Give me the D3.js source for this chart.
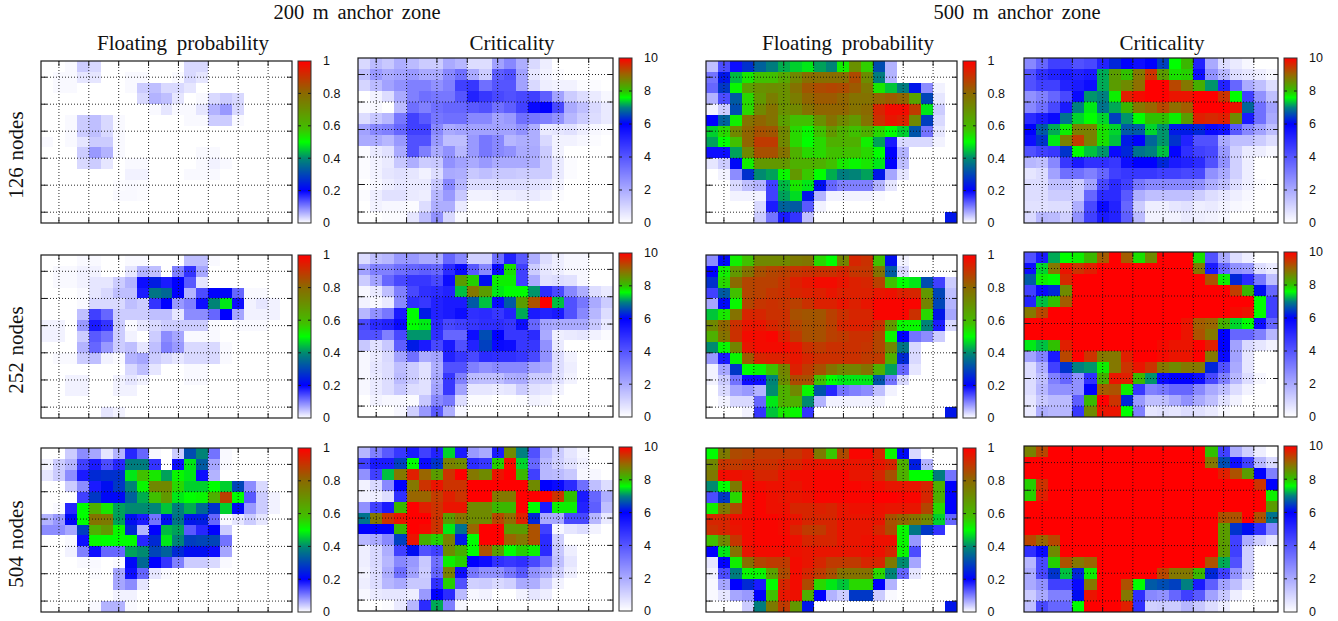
<!DOCTYPE html>
<html><head><meta charset="utf-8">
<script src="https://cdn.jsdelivr.net/npm/d3@7"></script>
<style>html,body{margin:0;padding:0;background:#fff;overflow:hidden}</style>
</head><body><svg id="c" width="1338" height="621"></svg>
<script>
// Values: floating probability in percent, criticality in tenths (0-100 = 0-10)
const fp200n126=[
[0,0,.5,4,3,0,0,0,0,0,0,0,3,3,0,0,0,0,0,0,0],
[0,.5,.5,2,2,0,0,.5,.5,0,0,.5,3,2,0,0,0,0,0,0,0],
[0,.5,.5,0,0,0,0,.5,4,5,3,3,2,0,0,0,0,0,0,0,0],
[0,0,0,0,0,0,0,0,3,6,5,2,0,.5,3,4,3,0,0,0,0],
[0,0,0,0,0,0,0,0,0,.5,2,.5,.5,2,6,8,3,0,0,0,0],
[0,0,.5,4,5,3,.5,0,0,0,0,0,.5,.5,4,4,.5,0,0,0,0],
[0,0,.5,4,5,3,.5,0,0,0,0,0,0,0,0,0,0,0,0,0,0],
[.5,0,.5,2,4,4,.5,0,0,0,0,0,0,0,0,0,0,0,0,0,0],
[0,0,0,4,8,6,.5,0,0,0,0,0,0,.5,.5,0,0,0,0,0,0],
[0,0,0,3,4,2,0,.5,.5,0,0,0,0,.5,1,.5,0,0,0,0,0],
[0,0,0,0,0,0,0,1,1,0,0,0,.5,.5,.5,0,0,0,0,0,0],
[0,0,0,0,0,0,.3,.5,.3,0,0,0,0,0,0,0,0,0,0,0,0],
[0,0,0,0,0,0,.5,.5,.3,0,0,0,0,0,0,0,0,0,0,0,0],
[0,0,0,0,0,0,0,0,0,0,0,0,0,0,0,0,0,0,0,0,0],
[0,0,0,0,0,0,0,0,0,0,0,0,0,0,0,0,0,0,0,0,0]];
const cr200n126=[
[9,16,13,19,16,12,12,20,17,8,8,22,28,19,9,4,0,0,0,0,0],
[15,24,20,22,24,20,20,28,34,20,12,38,41,22,6,3,1,0,0,0,0],
[10,16,22,26,30,30,26,30,45,47,34,40,40,22,9,4,3,3,1,1,0],
[0,3,8,20,30,34,32,32,40,52,47,43,41,43,45,38,22,12,8,5,2],
[1,2,0,16,34,30,34,36,36,39,41,34,38,45,58,60,43,20,15,9,5],
[8,13,17,32,45,39,32,34,34,28,28,22,24,34,32,30,26,17,12,8,5],
[22,28,30,36,45,45,28,20,22,22,22,22,22,26,19,5,6,7,4,2,1],
[20,20,17,24,41,41,24,15,15,24,32,28,17,19,19,9,3,3,2,1,0],
[1,5,7,20,41,30,20,26,17,24,32,28,26,20,20,12,3,0,0,0,0],
[1,3,5,13,19,12,13,26,22,20,24,20,20,20,19,12,5,1,0,0,0],
[1,3,6,7,6,3,8,20,19,13,15,13,13,12,12,12,5,1,0,0,0],
[0,2,4,6,5,5,13,28,17,8,8,8,8,8,7,6,3,0,0,0,0],
[1,4,7,7,5,4,17,24,13,3,3,4,4,5,5,3,1,0,0,0,0],
[0,3,2,2,1,8,19,19,5,0,0,0,0,0,0,0,0,0,0,0,0],
[0,0,1,1,6,15,26,9,1,0,0,0,0,0,0,0,0,0,0,0,0]];
const fp500n126=[
[5,14,19,27,34,38,43,46,48,42,39,52,70,56,31,6,0,0,0,0,0],
[11,23,44,53,58,58,64,72,79,79,79,79,86,71,38,6,0,0,0,0,0],
[12,28,51,66,70,71,70,78,84,86,87,86,83,76,53,45,38,23,9,1,0],
[6,14,33,55,68,75,70,75,81,83,83,81,78,78,81,83,81,65,30,2,0],
[1,4,31,55,72,78,70,72,78,81,81,81,78,80,93,98,98,89,48,4,0],
[20,34,52,78,81,78,66,58,58,70,78,72,68,78,91,96,94,72,29,3,0],
[46,55,72,81,85,84,72,55,51,58,68,62,58,62,55,50,46,32,11,2,0],
[42,50,58,81,89,89,72,55,50,55,62,62,62,52,42,18,3,3,3,1,0],
[19,19,42,72,85,85,78,62,55,55,58,58,58,55,50,20,6,0,0,0,0],
[2,4,21,52,68,68,68,62,62,62,58,53,51,53,48,20,5,0,0,0,0],
[0,1,9,27,40,42,51,68,57,50,43,38,39,42,23,7,2,0,0,0,0],
[0,0,3,5,6,15,44,53,48,22,12,10,10,10,6,2,0,0,0,0,0],
[0,0,1,1,1,15,42,47,23,6,1,1,1,1,.5,0,0,0,0,0,0],
[0,0,0,0,3,18,34,33,13,1,0,0,0,0,0,0,0,0,0,0,0],
[0,0,0,0,4,11,18,16,5,0,0,0,0,0,0,0,0,0,0,0,23]];
const cr500n126=[
[28,36,45,45,41,43,52,63,60,57,60,65,76,81,52,20,8,5,2,0,0],
[41,49,52,54,52,54,72,84,80,88,95,84,78,79,57,26,17,8,6,4,2],
[41,45,45,52,54,57,72,84,86,89,100,100,93,88,82,71,52,36,20,15,8],
[26,30,36,43,58,71,70,77,97,99,100,100,98,98,100,100,95,76,45,26,15],
[28,34,43,54,70,75,69,72,81,88,90,93,89,91,100,100,100,98,68,34,22],
[50,54,58,69,74,76,74,65,71,76,80,80,77,84,97,96,97,86,54,34,20],
[60,67,72,77,87,87,78,74,67,67,74,71,62,62,63,58,56,39,28,22,15],
[57,64,75,87,94,87,78,73,62,60,68,71,64,52,41,41,20,15,15,12,8],
[41,45,47,64,76,73,71,58,63,69,70,73,59,49,45,43,24,11,5,4,2],
[17,15,28,47,54,49,49,47,57,60,60,63,54,52,50,41,26,11,4,0,0],
[6,8,22,34,34,30,36,45,47,47,47,45,45,43,43,26,20,11,4,0,0],
[8,8,15,15,12,22,43,50,45,32,28,28,28,28,26,19,15,8,4,1,0],
[8,8,12,12,12,36,50,50,39,19,15,15,15,15,12,8,6,4,2,0,0],
[7,7,8,8,19,43,58,52,36,12,4,4,6,7,4,5,3,2,1,0,0],
[9,17,16,11,26,45,54,52,38,16,3,3,3,5,4,3,2,0,0,0,0]];
const fp200n252=[
[0,0,0,.5,.5,0,0,.5,.5,0,0,0,5,5,.5,0,0,0,0,0,0],
[0,.5,.5,1,1,0,0,2,6,5,0,10,16,7,0,0,0,0,0,0,0],
[0,.5,.5,1,2,2,4,6,19,24,18,20,13,2,0,0,0,0,0,0,0],
[0,0,0,.5,2,3,5,5,18,37,35,20,6,14,20,21,12,.5,.5,0,0],
[0,0,0,.5,3,3,3,5,4,16,20,8,10,19,39,48,19,1,2,1,0],
[0,0,0,5,15,12,4,4,4,5,5,2,9,9,12,20,7,1,1,1,0],
[1,1,0,8,18,16,4,.5,2,3,4,4,4,4,.5,0,.5,.5,.5,0,0],
[1,1,0,4,13,11,4,1,0,4,9,7,.5,.5,.5,0,0,0,0,0,0],
[0,0,0,6,12,8,4,5,2,5,10,8,3,3,3,.5,0,0,0,0,0],
[0,.5,.5,4,5,1,.5,6,7,4,3,2,3,3,3,.5,0,0,0,0,0],
[0,0,0,0,0,0,0,3,5,2,0,0,.5,.5,0,0,0,0,0,0,0],
[0,0,1,1,0,0,1,2,1,0,0,0,.5,.5,0,0,0,0,0,0,0],
[0,0,1,1,0,0,1,1,0,0,0,0,0,0,0,0,0,0,0,0,0],
[0,0,0,0,0,0,0,0,0,0,0,0,0,0,0,0,0,0,0,0,0],
[0,0,0,0,0,2,1,0,0,0,0,0,0,0,0,0,0,0,0,0,0]];
const cr200n252=[
[8,15,17,24,24,20,20,36,28,11,11,34,52,39,19,8,4,2,2,0,0],
[22,30,30,34,36,38,36,50,58,39,28,58,78,45,12,6,4,2,2,0,0],
[12,22,36,43,47,47,43,57,84,79,61,77,77,45,20,7,8,7,2,0,0],
[2,5,15,30,43,49,50,52,73,88,84,75,76,76,71,50,43,28,19,8,5],
[3,2,5,28,49,47,52,54,54,67,73,58,67,84,92,100,73,41,32,20,12],
[17,26,32,54,76,62,52,54,57,49,50,47,52,72,54,52,54,41,28,17,8],
[43,50,52,58,76,75,50,43,45,47,49,49,47,57,36,22,20,20,20,13,5],
[41,41,30,43,71,71,49,36,36,57,66,60,47,47,50,20,4,5,6,3,1],
[13,7,13,38,62,54,43,54,41,52,65,58,57,47,47,26,5,0,0,0,0],
[2,5,9,22,34,20,22,52,47,43,50,49,49,47,43,26,8,3,0,0,0],
[2,6,8,15,12,7,19,41,41,30,26,28,28,28,22,20,8,4,0,0,0],
[2,5,8,16,12,7,20,47,30,16,15,15,19,20,12,12,7,3,0,0,0],
[2,5,8,13,8,7,22,47,22,6,6,5,6,12,7,6,3,0,0,0,0],
[0,3,2,2,1,13,28,32,8,1,1,0,0,1,3,2,0,0,0,0,0],
[0,0,0,2,11,24,39,19,2,0,0,0,0,0,0,0,0,0,0,0,0]];
const fp500n252=[
[9,21,52,58,72,72,72,76,77,55,50,73,93,91,58,22,1,0,0,0,0],
[20,52,68,78,85,87,88,90,91,91,91,93,90,90,78,33,3,0,0,0,0],
[27,55,80,87,88,88,90,94,96,98,98,96,94,93,88,58,50,48,31,15,4],
[15,33,58,87,88,90,91,93,94,94,96,94,94,94,96,97,94,93,68,30,5],
[7,21,51,87,90,91,90,88,91,94,94,96,94,96,99,99,99,99,73,30,6],
[45,53,78,93,93,91,91,85,84,84,88,91,93,93,99,99,99,91,55,23,7],
[72,81,91,96,96,93,91,87,85,85,88,93,94,94,91,68,51,51,39,18,3],
[62,78,91,98,98,99,94,89,85,85,88,89,91,91,87,51,20,11,9,4,0],
[40,51,73,96,98,98,98,96,91,89,91,91,91,90,87,72,37,3,0,0,0],
[8,18,51,83,93,94,94,96,93,91,91,91,91,89,89,62,26,3,0,0,0],
[1,7,28,50,51,58,73,94,89,85,78,73,73,78,62,42,12,2,0,0,0],
[1,4,11,19,19,39,71,86,85,58,50,48,48,48,32,11,3,0,0,0,0],
[0,3,7,8,6,40,62,72,51,32,17,11,10,9,5,1,0,0,0,0,0],
[0,1,3,3,12,48,62,62,40,6,1,1,1,1,1,0,0,0,0,0,0],
[0,0,0,1,16,45,53,51,16,0,0,0,0,0,0,0,0,0,0,0,23]];
const cr500n252=[
[41,54,72,76,77,81,91,100,91,78,86,100,100,100,78,41,20,8,4,0,0],
[57,74,88,98,95,97,100,100,100,100,100,100,100,100,88,54,36,26,24,8,5],
[67,77,76,96,100,100,100,100,100,100,100,100,100,100,100,92,77,63,50,32,15],
[45,58,63,86,100,100,100,100,100,100,100,100,100,100,100,100,100,94,81,61,36],
[52,73,80,91,100,100,100,100,100,100,100,100,100,100,100,100,100,100,100,76,45],
[88,93,100,100,100,100,100,100,100,100,100,100,100,100,100,100,100,99,98,76,45],
[100,100,100,100,100,100,100,100,100,100,100,100,100,98,91,90,82,74,76,57,36],
[100,100,100,100,100,100,100,100,100,100,100,100,100,98,92,88,60,36,36,30,17],
[75,73,80,97,100,100,100,100,100,100,100,99,98,98,100,97,60,22,9,6,3],
[22,30,54,93,100,95,88,88,97,100,100,99,98,98,100,88,58,22,6,0,0],
[8,19,45,64,70,71,77,88,95,98,95,88,86,88,88,63,41,20,6,0,0],
[8,15,30,36,26,49,82,98,97,81,71,58,60,60,57,43,30,17,8,2,0],
[8,17,26,26,26,60,91,92,77,47,30,32,36,36,28,20,15,8,3,0,0],
[6,13,16,16,38,81,100,95,63,24,15,15,20,26,20,15,7,3,0,0,0],
[5,19,17,17,47,86,98,98,76,30,6,7,6,8,7,5,2,0,0,0,0]];
const fp200n504=[
[0,0,4,9,7,2,6,17,12,.5,0,4,31,39,11,.5,0,0,0,0,0],
[1,4,6,15,18,14,17,38,38,16,0,19,48,33,7,.5,0,0,0,0,0],
[2,4,9,18,26,27,27,48,58,53,42,51,48,19,6,0,0,0,0,0,0],
[0,0,4,9,18,22,28,39,51,72,72,55,46,46,50,46,30,9,3,0,0],
[0,0,0,15,28,21,21,34,43,58,68,48,50,51,62,88,50,13,4,1,0],
[0,.5,17,50,62,53,42,40,40,39,45,38,43,35,27,46,21,8,4,1,0],
[6,8,21,50,78,76,42,22,18,11,22,37,23,24,12,.5,2,4,2,0,0],
[9,9,7,29,62,68,51,26,6,20,44,42,13,17,20,4,0,0,0,0,0],
[0,0,.5,19,51,50,50,50,17,26,48,39,29,30,30,11,0,0,0,0,0],
[0,0,1,10,19,12,12,42,40,30,34,26,22,22,19,7,0,0,0,0,0],
[0,0,0,.5,.5,0,.5,21,35,20,16,10,4,4,3,.5,0,0,0,0,0],
[0,0,0,0,.3,0,7,19,12,2,.5,0,0,0,0,0,0,0,0,0,0],
[0,0,0,0,0,0,7,9,2,0,0,0,0,0,0,0,0,0,0,0,0],
[0,0,0,0,0,0,1,1,0,0,0,0,0,0,0,0,0,0,0,0,0],
[0,0,0,0,.5,6,6,.5,0,0,0,0,0,0,0,0,0,0,0,0,0]];
const cr200n504=[
[17,30,39,47,54,45,52,74,54,24,20,54,86,70,41,20,12,6,2,0,0],
[45,54,54,65,76,58,64,87,86,50,47,79,99,74,36,17,11,7,3,0,0],
[26,45,73,88,97,90,84,95,100,88,86,98,100,81,45,17,16,13,2,2,0],
[3,9,28,60,88,95,98,95,95,100,100,100,100,100,86,60,58,50,34,15,8],
[3,4,8,49,90,90,94,97,95,100,100,88,88,100,100,100,95,80,54,36,19],
[26,45,54,81,100,97,95,98,98,86,86,81,81,100,76,54,77,77,52,38,15],
[69,88,95,98,100,100,95,84,88,86,86,93,89,97,63,20,20,43,43,17,5],
[60,60,60,81,100,99,95,75,69,90,100,100,84,84,92,45,2,6,8,3,0],
[17,20,28,65,98,82,79,87,62,76,100,100,90,88,92,50,11,0,0,0,0],
[4,9,19,45,61,41,45,86,82,76,92,84,76,79,77,50,13,4,0,0,0],
[4,9,17,28,24,13,34,77,79,60,57,49,47,49,43,34,15,6,0,0,0],
[3,8,19,34,22,12,36,87,57,32,26,26,32,39,26,20,11,4,0,0,0],
[4,8,17,20,13,13,49,79,41,11,12,9,11,20,19,11,3,0,0,0,0],
[2,5,6,6,4,24,60,50,16,2,3,0,0,3,6,4,0,0,0,0,0],
[0,0,1,5,17,50,72,30,2,0,0,0,0,0,0,0,0,0,0,0,0]];
const fp500n504=[
[50,76,86,87,89,89,89,90,93,76,57,86,99,99,93,51,21,3,0,0,0],
[72,90,89,91,91,91,93,93,96,96,96,96,96,96,96,93,62,24,6,0,0],
[76,98,97,96,93,93,96,98,98,99,99,99,96,96,93,85,62,50,50,38,11],
[40,50,76,98,98,97,97,96,98,99,99,99,99,98,98,96,96,96,93,62,20],
[14,28,55,98,99,97,96,96,97,99,99,99,99,99,100,100,99,99,93,62,20],
[52,76,86,98,99,97,97,93,93,94,93,96,97,97,97,96,96,96,87,55,20],
[93,93,97,98,99,99,98,96,93,93,93,96,96,96,96,85,81,78,72,46,12],
[91,93,96,98,99,99,98,93,89,89,93,96,96,96,93,86,51,37,28,16,0],
[58,72,90,98,99,99,99,97,93,93,93,96,96,97,97,97,51,8,0,0,0],
[20,48,78,96,98,98,98,97,96,96,96,96,96,97,97,93,51,14,0,0,0],
[2,20,52,79,87,89,89,98,96,93,89,89,89,93,93,76,40,7,0,0,0],
[1,14,38,51,51,66,86,98,93,89,85,78,78,78,55,39,12,2,0,0,0],
[.5,7,20,26,18,50,93,98,86,55,48,45,55,55,20,6,0,0,0,0,0],
[.5,2,7,8,20,58,96,97,62,20,6,4,28,28,4,.5,0,0,0,0,0],
[0,0,0,4,38,76,89,68,23,0,0,0,0,0,0,0,0,0,0,0,23]];
const cr500n504=[
[87,93,100,100,100,100,100,100,100,100,100,100,100,100,100,80,45,20,11,4,0],
[100,100,100,100,100,100,100,100,100,100,100,100,100,100,100,88,66,57,45,17,9],
[100,100,100,100,100,100,100,100,100,100,100,100,100,100,100,100,97,92,84,60,30],
[79,95,100,100,100,100,100,100,100,100,100,100,100,100,100,100,100,100,100,95,60],
[79,97,100,100,100,100,100,100,100,100,100,100,100,100,100,100,100,100,100,100,77],
[100,100,100,100,100,100,100,100,100,100,100,100,100,100,100,100,100,100,100,100,84],
[100,100,100,100,100,100,100,100,100,100,100,100,100,100,100,100,92,92,100,92,69],
[100,100,100,100,100,100,100,100,100,100,100,100,100,100,100,100,84,64,61,49,28],
[93,90,93,100,100,100,100,100,100,100,100,100,100,100,100,100,84,45,19,11,6],
[49,58,86,100,100,100,100,100,100,100,100,100,100,100,100,100,84,45,11,0,0],
[17,43,79,92,88,90,100,100,100,100,100,100,100,100,100,92,72,41,11,0,0],
[20,43,64,73,63,77,100,100,100,100,100,93,88,88,81,63,45,26,11,0,0],
[20,26,45,45,58,88,100,100,92,76,67,66,65,70,54,38,22,15,5,0,0],
[12,20,30,30,61,98,100,100,88,49,28,26,36,45,39,22,13,4,0,0,0],
[15,43,36,36,76,100,100,100,97,49,11,12,12,17,13,8,4,0,0,0,0]];

const panelData=[
 [fp200n126,cr200n126,fp500n126,cr500n126],
 [fp200n252,cr200n252,fp500n252,cr500n252],
 [fp200n504,cr200n504,fp500n504,cr500n504]];
const columnTitles=["Floating probability","Criticality","Floating probability","Criticality"];
const rowLabels=["126 nodes","252 nodes","504 nodes"];
const groupLabels=["200 m anchor zone","500 m anchor zone"];
const fpTicks=[0,0.2,0.4,0.6,0.8,1];
const crTicks=[0,2,4,6,8,10];
const xGridCells=[1,3.5,6,8.5,11,13.5,16,18.5];   // column-centre units
const yGridCells=[1,3.5,6,8.5,11,13.5];           // rows from the bottom edge

// layout
const colX=[[41,292,298,311,323],[358,613,619,632,644],[706,957,963,976,987.5],[1024,1278,1284,1297,1309]];
const rowY=[[[61,223],[58,223],[61,223],[58,223]],[[255,418],[253,417],[255,418],[252,417]],[[448,612],[447,611],[448,612],[446,612]]];

const fpScale=d3.scaleLinear().domain([0,0.2,0.4,0.5,0.58,0.72,0.8,1])
  .range(["#ffffff","#0000ff","#008a70","#00ff00","#40c000","#708800","#8a6a00","#ff0000"]);
const crScale=d3.scaleLinear().domain([0,6,7,7.6,8,9,10])
  .range(["#ffffff","#0000ff","#008080","#00ff00","#30c000","#996600","#ff0000"]);

const svg=d3.select("#c");
const serif="'Liberation Serif','Times New Roman',serif", sans="'Liberation Sans',Arial,sans-serif";
const ink="#1a1a1a";
svg.append("rect").attr("width",1338).attr("height",621).attr("fill","#fff");

panelData.forEach((rowPanels,r)=>{
 rowPanels.forEach((grid,c)=>{
  const [x0,x1,bx0,bx1,lx]=colX[c];
  const [y0,y1]=rowY[r][c];
  const isFp=c%2===0;
  const color=isFp?fpScale:crScale;
  const div=isFp?100:10;
  const g=svg.append("g");
  const xs=d3.scaleLinear().domain([-0.5,20.5]).range([x0,x1]);
  const ys=d3.scaleLinear().domain([0,15]).range([y1,y0]);   // height above the bottom, in rows
  const cells=[];
  grid.forEach((vals,i)=>vals.forEach((v,j)=>cells.push({i,j,v})));
  g.selectAll("rect.cell").data(cells).join("rect").attr("class","cell")
    .attr("x",d=>xs(d.j-0.5)).attr("width",xs(1)-xs(0)+0.3)
    .attr("y",d=>ys(15-d.i)).attr("height",ys(0)-ys(1)+0.3)
    .attr("fill",d=>color(d.v/div)).attr("shape-rendering","crispEdges");
  // grid
  g.selectAll("line.gx").data(xGridCells).join("line").attr("class","gx")
    .attr("x1",d=>xs(d)).attr("x2",d=>xs(d)).attr("y1",y0).attr("y2",y1)
    .attr("stroke","#111").attr("stroke-width",0.9).attr("stroke-dasharray","1 2");
  g.selectAll("line.gy").data(yGridCells).join("line").attr("class","gy")
    .attr("y1",d=>ys(d)).attr("y2",d=>ys(d)).attr("x1",x0).attr("x2",x1)
    .attr("stroke","#111").attr("stroke-width",0.9).attr("stroke-dasharray","1 2");
  // inward ticks on all four sides
  [[y0,y0+5],[y1,y1-5]].forEach(([a,b])=>{
    g.selectAll(null).data(xGridCells).join("line")
     .attr("x1",d=>xs(d)).attr("x2",d=>xs(d)).attr("y1",a).attr("y2",b).attr("stroke",ink).attr("stroke-width",1);
  });
  [[x0,x0+6],[x1,x1-5]].forEach(([a,b])=>{
    g.selectAll(null).data(yGridCells).join("line")
     .attr("y1",d=>ys(d)).attr("y2",d=>ys(d)).attr("x1",a).attr("x2",b).attr("stroke",ink).attr("stroke-width",1);
  });
  g.append("rect").attr("x",x0).attr("y",y0).attr("width",x1-x0).attr("height",y1-y0)
    .attr("fill","none").attr("stroke",ink).attr("stroke-width",1.2);
  // colour bar
  const ticks=isFp?fpTicks:crTicks;
  const bs=d3.scaleLinear().domain([ticks[0],ticks[ticks.length-1]]).range([y1,y0]);
  const steps=d3.range(y1-y0);
  g.selectAll("rect.bar").data(steps).join("rect").attr("class","bar")
    .attr("x",bx0).attr("width",bx1-bx0)
    .attr("y",d=>y1-d-1).attr("height",1.2)
    .attr("fill",d=>color(bs.invert(y1-d-0.5))).attr("shape-rendering","crispEdges");
  g.selectAll("line.bl").data(ticks.slice(1,-1)).join("line").attr("class","bl")
    .attr("x1",bx0).attr("x2",bx0+3).attr("y1",d=>bs(d)).attr("y2",d=>bs(d)).attr("stroke",ink).attr("stroke-width",1);
  g.selectAll("line.br").data(ticks.slice(1,-1)).join("line").attr("class","br")
    .attr("x1",bx1-3).attr("x2",bx1).attr("y1",d=>bs(d)).attr("y2",d=>bs(d)).attr("stroke",ink).attr("stroke-width",1);
  g.append("rect").attr("x",bx0).attr("y",y0).attr("width",bx1-bx0).attr("height",y1-y0)
    .attr("fill","none").attr("stroke","#333").attr("stroke-width",1);
  g.selectAll("text.bt").data(ticks).join("text").attr("class","bt")
    .attr("x",lx).attr("y",d=>bs(d)+4.4).attr("font-family",sans).attr("font-size",12.5).attr("fill","#111")
    .text(d=>d);
 });
});

// titles
const titleCx=[183,512,848,1162];
columnTitles.forEach((t,i)=>svg.append("text").attr("x",titleCx[i]).attr("y",50).attr("text-anchor","middle")
  .attr("font-family",serif).attr("font-size",21).attr("word-spacing",4.5).attr("fill","#111").text(t));
const groupCx=[357,1017];
groupLabels.forEach((t,i)=>svg.append("text").attr("x",groupCx[i]).attr("y",18.5).attr("text-anchor","middle")
  .attr("font-family",serif).attr("font-size",20.5).attr("word-spacing",3.5).attr("fill","#111").text(t));
const rowCy=[155,350,544];
rowLabels.forEach((t,i)=>svg.append("text").attr("transform",`translate(23,${rowCy[i]}) rotate(-90)`).attr("text-anchor","middle")
  .attr("font-family",serif).attr("font-size",21).attr("word-spacing",1.5).attr("fill","#111").text(t));
</script></body></html>
